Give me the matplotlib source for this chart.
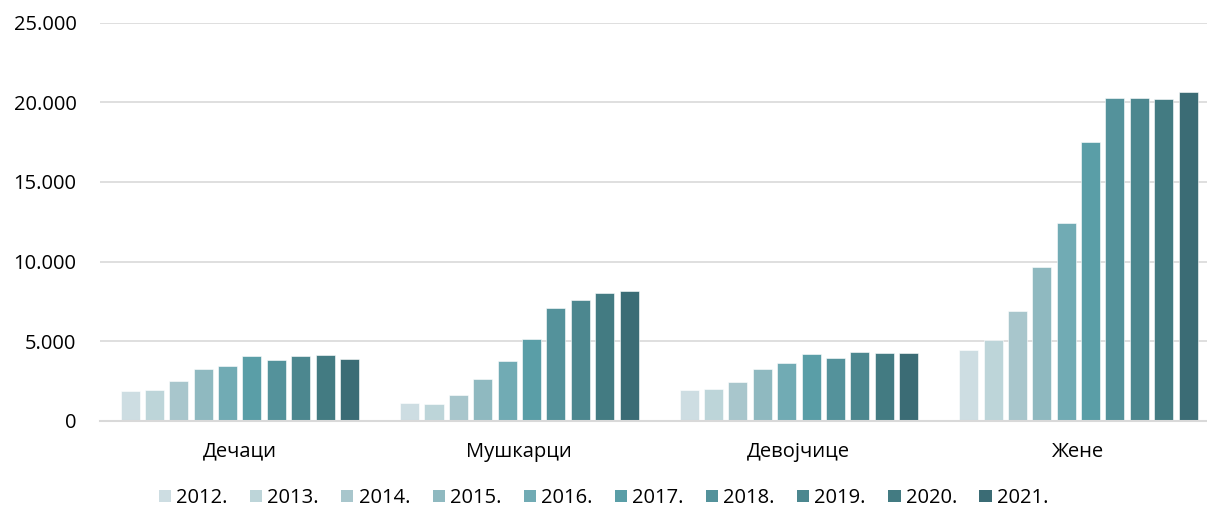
import numpy as np
import matplotlib
matplotlib.use("Agg")
import matplotlib.pyplot as plt
from matplotlib.patches import Patch

plt.rcParams["font.family"] = ["Open Sans", "DejaVu Sans"]

groups = ["Дечаци", "Мушкарци", "Девојчице", "Жене"]
years = ["2012.", "2013.", "2014.", "2015.", "2016.", "2017.", "2018.", "2019.", "2020.", "2021."]

# values per year: [Дечаци, Мушкарци, Девојчице, Жене]
v2012 = [1850, 1110, 1930, 4420]
v2013 = [1930, 1070, 2010, 5050]
v2014 = [2470, 1590, 2450, 6910]
v2015 = [3230, 2600, 3270, 9630]
v2016 = [3440, 3750, 3600, 12420]
v2017 = [4060, 5110, 4210, 17490]
v2018 = [3790, 7100, 3940, 20250]
v2019 = [4040, 7580, 4320, 20250]
v2020 = [4110, 8040, 4250, 20230]
v2021 = [3900, 8150, 4230, 20670]
values = [v2012, v2013, v2014, v2015, v2016, v2017, v2018, v2019, v2020, v2021]

colors = ["#cddde2", "#bdd5d9", "#a8c6cc", "#8fb9c0", "#71abb4",
          "#5a9ea7", "#54929b", "#4c878f", "#437b82", "#3b6c75"]

fig = plt.figure(figsize=(12.07, 5.13), dpi=100)
ax = fig.add_axes([100 / 1207, 1 - 420.7 / 513, 1 - 100 / 1207, (420.7 - 22.7) / 513])

x = np.arange(len(groups))
step = 0.0872
width = 0.068
for i, (yr, vals, c) in enumerate(zip(years, values, colors)):
    ax.bar(x + (i - 4.5) * step, vals, width=width, color=c,
           edgecolor="white", linewidth=0.4, zorder=3)

ax.set_xlim(-0.5, 3.46)
ax.set_ylim(0, 25000)
ax.set_yticks(np.arange(0, 25001, 5000))
ax.set_yticklabels(["0", "5.000", "10.000", "15.000", "20.000", "25.000"])
ax.set_xticks(x)
ax.set_xticklabels(groups)
ax.grid(axis="y", color="#d9d9d9", linewidth=1.2, zorder=0)
for s in ["top", "right", "left"]:
    ax.spines[s].set_visible(False)
ax.spines["bottom"].set_color("#d9d9d9")
ax.spines["bottom"].set_linewidth(1.5)
ax.spines["bottom"].set_zorder(4)
ax.tick_params(axis="both", length=0, labelsize=14.5, colors="#000000")
ax.tick_params(axis="x", pad=15)
ax.tick_params(axis="y", pad=17)

handles = [Patch(facecolor=c, edgecolor="none") for c in colors]
fig.legend(handles, years, loc="center", bbox_to_anchor=(0.5, 1 - 498 / 513),
           ncol=10, frameon=False, fontsize=14.5, handlelength=0.6, handleheight=0.6,
           handletextpad=0.25, columnspacing=1.12)

fig.savefig("out.png", dpi=100)
